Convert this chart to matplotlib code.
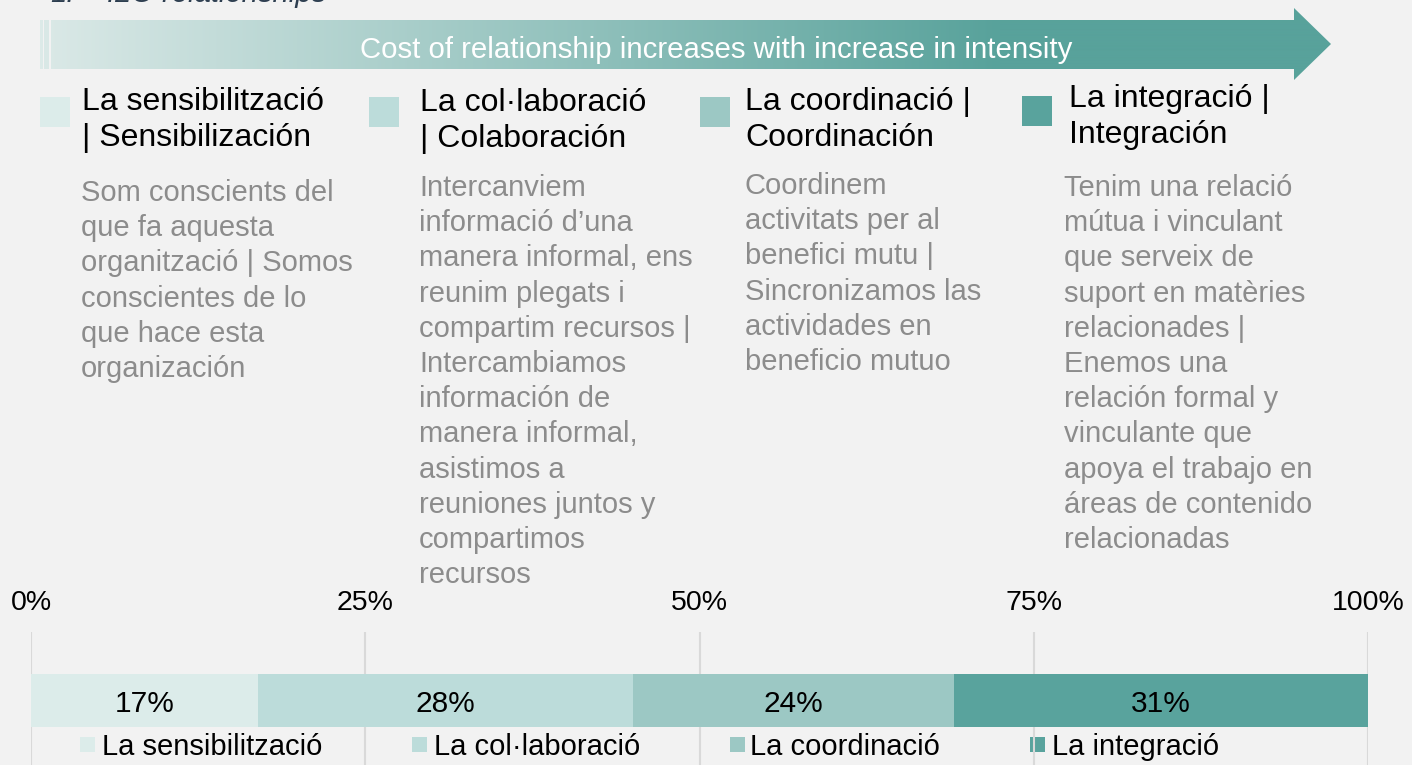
import numpy as np
import matplotlib
matplotlib.use("Agg")
import matplotlib.pyplot as plt
from matplotlib.patches import Polygon, Rectangle
from matplotlib.colors import to_rgb

plt.rcParams['font.family'] = ['Liberation Sans', 'DejaVu Sans']

# ---------------- data ----------------
categories = ["La sensibilització", "La col·laboració", "La coordinació", "La integració"]
values = [17, 28, 24, 31]
colors = ["#dcecea", "#bcdcda", "#9cc8c4", "#59a39d"]
tick_values = [0, 25, 50, 75, 100]
tick_labels = ["0%", "25%", "50%", "75%", "100%"]

headings = [
    ["La sensibilització", "| Sensibilización"],
    ["La col·laboració", "| Colaboración"],
    ["La coordinació |", "Coordinación"],
    ["La integració |", "Integración"],
]
descriptions = [
    ["Som conscients del", "que fa aquesta", "organització | Somos",
     "conscientes de lo", "que hace esta", "organización"],
    ["Intercanviem", "informació d’una", "manera informal, ens",
     "reunim plegats i", "compartim recursos |", "Intercambiamos",
     "información de", "manera informal,", "asistimos a",
     "reuniones juntos y", "compartimos", "recursos"],
    ["Coordinem", "activitats per al", "benefici mutu |",
     "Sincronizamos las", "actividades en", "beneficio mutuo"],
    ["Tenim una relació", "mútua i vinculant", "que serveix de",
     "suport en matèries", "relacionades |", "Enemos una",
     "relación formal y", "vinculante que", "apoya el trabajo en",
     "áreas de contenido", "relacionadas"],
]
arrow_text = "Cost of relationship increases with increase in intensity"
title_num = "1."
title_text = "I2O relationships"

# ---------------- figure ----------------
W, H = 1412, 765
BG = "#f2f2f2"
fig = plt.figure(figsize=(W / 100, H / 100), dpi=100, facecolor=BG)

# overlay axes in pixel coordinates
ov = fig.add_axes([0, 0, 1, 1])
ov.set_xlim(0, W)
ov.set_ylim(H, 0)
ov.axis("off")
ov.set_facecolor("none")

# title (cut off at top, as in the original)
ov.text(50, 2, title_num, fontsize=21, style="italic", color="#2d3e50",
        va="baseline", ha="left")
ov.text(107, 2, title_text, fontsize=21, style="italic", color="#2d3e50",
        va="baseline", ha="left")

# gradient arrow
c0 = np.array(to_rgb("#dbe9e7"))
c1 = np.array(to_rgb("#58a29b"))
xs = np.linspace(0, W, 1412)
t = np.clip((xs - 40) / (1000 - 40), 0, 1)
grad = (c0[None, :] * (1 - t[:, None]) + c1[None, :] * t[:, None])[None, :, :]
arrow_pts = [(51, 20), (1294, 20), (1294, 8), (1331, 44), (1294, 80),
             (1294, 69), (51, 69)]
poly = Polygon(arrow_pts, closed=True, facecolor="none", edgecolor="none")
ov.add_patch(poly)
im = ov.imshow(grad, extent=(0, W, 0, 100), origin="upper", aspect="auto",
               interpolation="bilinear", zorder=1)
im.set_clip_path(poly)
ov.add_patch(Rectangle((40, 20), 2.5, 49, facecolor="#dceae8", edgecolor="none", zorder=2))
ov.add_patch(Rectangle((44, 20), 5, 49, facecolor="#d9e8e6", edgecolor="none", zorder=2))
ov.set_xlim(0, W)
ov.set_ylim(H, 0)
ov.text(716, 50, arrow_text, fontsize=21.2, color="white", ha="center",
        va="center", zorder=3)

# headings with squares and descriptions
sq_x = [40, 369, 700, 1022]
sq_y = [97, 97, 97, 96]
head_x = [82, 420, 745, 1069]
head_y = [102, 103, 102, 99]
desc_x = [81, 419, 745, 1064]
desc_y = [193, 188, 186, 188]
for i in range(4):
    ov.add_patch(Rectangle((sq_x[i], sq_y[i]), 30, 30, facecolor=colors[i],
                           edgecolor="none", zorder=2))
    for j, line in enumerate(headings[i]):
        ov.text(head_x[i], head_y[i] + j * 36, line, fontsize=23,
                color="black", ha="left", va="center")
    for j, line in enumerate(descriptions[i]):
        ov.text(desc_x[i], desc_y[i] + j * 35.2, line, fontsize=21,
                color="#8c8c8c", ha="left", va="center")

# ---------------- bar chart ----------------
x0, x1 = 31, 1368
ax = fig.add_axes([x0 / W, 0, (x1 - x0) / W, (H - 632) / H])
ax.set_facecolor("none")
ax.set_xlim(0, 100)
ax.set_ylim(0, 1)
for s in ax.spines.values():
    s.set_visible(False)
ax.set_yticks([])
ax.set_xticks(tick_values)
ax.set_xticklabels([])
ax.tick_params(length=0)
for tv in tick_values:
    ax.axvline(tv, color="#d9d9d9", lw=1.5, zorder=0)

# bar: y 674..727 in pixels -> axes fraction
axh = H - 632
b_bottom = (H - 727) / axh
b_top = (H - 674) / axh
b_mid = (b_bottom + b_top) / 2
left = 0
for v, c in zip(values, colors):
    ax.barh(b_mid, v, left=left, height=b_top - b_bottom,
            color=c, edgecolor="none", zorder=2)
    ax.text(left + v / 2, b_mid - 3 / axh, f"{v}%", fontsize=21.5,
            color="black", ha="center", va="center", zorder=3)
    left += v

# tick labels on top
for tv, tl in zip(tick_values, tick_labels):
    px = x0 + (x1 - x0) * tv / 100
    ov.text(px, 603, tl, fontsize=20.5, color="black", ha="center", va="center")

# legend
leg_sq_x = [80, 412, 730, 1030]
leg_tx = [102, 434, 750, 1052]
for i in range(4):
    ov.add_patch(Rectangle((leg_sq_x[i], 737), 15, 15, facecolor=colors[i],
                           edgecolor="none", zorder=3))
    ov.text(leg_tx[i], 747, categories[i], fontsize=21, color="black",
            ha="left", va="center", zorder=3)

fig.savefig("out.png", dpi=100, facecolor=BG)
